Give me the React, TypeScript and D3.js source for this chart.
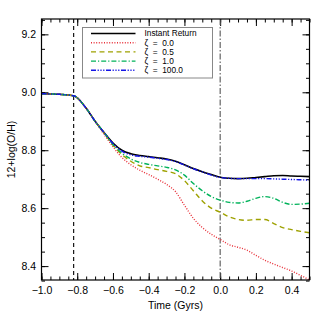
import * as d3 from "d3";
import { useRef, useEffect } from "react";

// time axis (Gyrs) shared by all series
const times = [
  -1.0, -0.9, -0.82, -0.75, -0.7, -0.65, -0.6, -0.55, -0.5, -0.45, -0.4, -0.35,
  -0.3, -0.25, -0.2, -0.15, -0.1, -0.05, 0.0, 0.05, 0.1, 0.15, 0.2, 0.25, 0.3,
  0.35, 0.4, 0.45, 0.5,
];

const instantReturn = [
  8.995, 8.993, 8.988, 8.945, 8.9, 8.861, 8.825, 8.8, 8.788, 8.782, 8.778, 8.774,
  8.77, 8.762, 8.75, 8.737, 8.726, 8.716, 8.707, 8.703, 8.702, 8.703, 8.706,
  8.709, 8.712, 8.713, 8.711, 8.71, 8.709,
];
const zeta00 = [
  8.995, 8.993, 8.988, 8.945, 8.9, 8.855, 8.812, 8.775, 8.75, 8.731, 8.716, 8.7,
  8.682, 8.657, 8.61, 8.565, 8.533, 8.51, 8.492, 8.474, 8.465, 8.455, 8.437,
  8.42, 8.407, 8.395, 8.383, 8.368, 8.352,
];
const zeta05 = [
  8.995, 8.993, 8.988, 8.945, 8.9, 8.86, 8.818, 8.785, 8.762, 8.746, 8.74, 8.733,
  8.727, 8.719, 8.695, 8.66, 8.625, 8.6, 8.586, 8.57, 8.561, 8.558, 8.561,
  8.561, 8.547, 8.533, 8.526, 8.52, 8.515,
];
const zeta10 = [
  8.995, 8.993, 8.988, 8.945, 8.9, 8.861, 8.82, 8.79, 8.77, 8.758, 8.751, 8.746,
  8.741, 8.732, 8.714, 8.685, 8.66, 8.64, 8.628, 8.62, 8.618, 8.624, 8.634,
  8.64, 8.634, 8.62, 8.613, 8.614, 8.617,
];
const zeta100 = [
  8.995, 8.993, 8.988, 8.945, 8.9, 8.861, 8.823, 8.797, 8.784, 8.779, 8.776,
  8.772, 8.768, 8.761, 8.749, 8.736, 8.725, 8.714, 8.706, 8.703, 8.702, 8.702,
  8.702, 8.702, 8.701, 8.7, 8.699, 8.698, 8.697,
];

const seriesNames = ["Instant Return", "ζ = 0.0", "ζ = 0.5", "ζ = 1.0", "ζ = 100.0"];
const seriesValues = [instantReturn, zeta00, zeta05, zeta10, zeta100];
const seriesColors = ["#000000", "#e8313a", "#9ea100", "#00b25a", "#1414e6"];
const seriesDash = ["none", "1,1.6", "5,3.5", "5,2,1.2,2", "5,1.6,1.2,1.6,1.2,1.6,1.2,1.6"];

const xTicks = [-1.0, -0.8, -0.6, -0.4, -0.2, 0.0, 0.2, 0.4];
const yTicks = [8.4, 8.6, 8.8, 9.0, 9.2];
const vLineDashed = -0.82;
const vLineDashDot = 0.0;

const W = 319;
const H = 319;
const margin = { top: 19, right: 9.5, bottom: 39, left: 41.5 };
const FONT = "'Liberation Sans', Arial, sans-serif";

const App = () => {
  const ref = useRef(null);

  useEffect(() => {
    const svg = d3.select(ref.current);
    svg.selectAll("*").remove();

    const iw = W - margin.left - margin.right;
    const ih = H - margin.top - margin.bottom;

    const x = d3.scaleLinear().domain([-1.0, 0.5]).range([0, iw]);
    const y = d3.scaleLinear().domain([8.352, 9.253]).range([ih, 0]);

    const g = svg.append("g").attr("transform", `translate(${margin.left},${margin.top})`);

    svg.append("defs").append("clipPath").attr("id", "plot-clip")
      .append("rect").attr("width", iw).attr("height", ih);

    // minor ticks every 0.05
    const xMinor = d3.range(-1.0, 0.5001, 0.05);
    const yMinor = d3.range(8.35, 9.2501, 0.05);

    const axisStyle = (sel) => {
      sel.select(".domain").remove();
      sel.selectAll("line").attr("stroke", "#000").attr("stroke-width", 1);
      sel.selectAll("text").attr("font-family", FONT).attr("font-size", 10.5).attr("fill", "#000");
    };

    // bottom
    g.append("g").attr("transform", `translate(0,${ih})`)
      .call(d3.axisBottom(x).tickValues(xMinor).tickSize(-3.5).tickFormat(() => ""))
      .call(axisStyle);
    g.append("g").attr("transform", `translate(0,${ih})`)
      .call(d3.axisBottom(x).tickValues(xTicks).tickSize(-7).tickPadding(7).tickFormat(d3.format(".1f")))
      .call(axisStyle);
    // top
    g.append("g")
      .call(d3.axisTop(x).tickValues(xMinor).tickSize(-3.5).tickFormat(() => ""))
      .call(axisStyle);
    g.append("g")
      .call(d3.axisTop(x).tickValues(xTicks).tickSize(-7).tickFormat(() => ""))
      .call(axisStyle);
    // left
    g.append("g")
      .call(d3.axisLeft(y).tickValues(yMinor).tickSize(-3.5).tickFormat(() => ""))
      .call(axisStyle);
    g.append("g")
      .call(d3.axisLeft(y).tickValues(yTicks).tickSize(-7).tickPadding(5.5).tickFormat(d3.format(".1f")))
      .call(axisStyle);
    // right
    g.append("g").attr("transform", `translate(${iw},0)`)
      .call(d3.axisRight(y).tickValues(yMinor).tickSize(-3.5).tickFormat(() => ""))
      .call(axisStyle);
    g.append("g").attr("transform", `translate(${iw},0)`)
      .call(d3.axisRight(y).tickValues(yTicks).tickSize(-7).tickFormat(() => ""))
      .call(axisStyle);

    // vertical reference lines
    g.append("line")
      .attr("x1", x(vLineDashed)).attr("x2", x(vLineDashed))
      .attr("y1", 0).attr("y2", ih)
      .attr("stroke", "#000").attr("stroke-width", 1.1).attr("stroke-dasharray", "4,3");
    g.append("line")
      .attr("x1", x(vLineDashDot)).attr("x2", x(vLineDashDot))
      .attr("y1", 0).attr("y2", ih)
      .attr("stroke", "#555").attr("stroke-width", 1.1).attr("stroke-dasharray", "6,2,1.5,2");

    const line = d3.line()
      .x((d) => x(d[0]))
      .y((d) => y(d[1]))
      .curve(d3.curveMonotoneX);

    const curves = g.append("g").attr("clip-path", "url(#plot-clip)");
    // draw black first, then coloured series, blue last
    const order = [0, 1, 2, 3, 4];
    order.forEach((i) => {
      curves.append("path")
        .datum(times.map((t, j) => [t, seriesValues[i][j]]))
        .attr("d", line)
        .attr("fill", "none")
        .attr("stroke", seriesColors[i])
        .attr("stroke-width", i === 0 ? 1.6 : 1.4)
        .attr("stroke-dasharray", seriesDash[i]);
    });

    // frame
    g.append("rect")
      .attr("width", iw).attr("height", ih)
      .attr("fill", "none").attr("stroke", "#000").attr("stroke-width", 1.2);

    // legend
    const leg = svg.append("g").attr("transform", "translate(82.5,27.5)");
    leg.append("rect")
      .attr("width", 130).attr("height", 50.5)
      .attr("fill", "#fff").attr("stroke", "#888").attr("stroke-width", 1);
    seriesNames.forEach((name, i) => {
      const yy = 6 + i * 9.2;
      leg.append("line")
        .attr("x1", 8.5).attr("x2", 53).attr("y1", yy).attr("y2", yy)
        .attr("stroke", seriesColors[i])
        .attr("stroke-width", i === 0 ? 1.6 : 1.4)
        .attr("stroke-dasharray", seriesDash[i]);
      leg.append("text")
        .attr("x", 62).attr("y", yy).attr("dy", "0.35em")
        .attr("font-family", FONT).attr("font-size", 8.3)
        .attr("xml:space", "preserve")
        .style("white-space", "pre")
        .text(name.replace(" = ", "  =  "));
    });

    // axis titles
    svg.append("text")
      .attr("x", margin.left + iw / 2).attr("y", 309)
      .attr("text-anchor", "middle")
      .attr("font-family", FONT).attr("font-size", 10.5)
      .text("Time (Gyrs)");
    svg.append("text")
      .attr("transform", `translate(15,${margin.top + ih / 2}) rotate(-90)`)
      .attr("text-anchor", "middle")
      .attr("font-family", FONT).attr("font-size", 10.5)
      .text("12+log(O/H)");
  }, []);

  return (
    <svg
      ref={ref}
      width={W}
      height={H}
      style={{ position: "absolute", left: 0, top: 0, background: "#fff" }}
    />
  );
};

export default App;
